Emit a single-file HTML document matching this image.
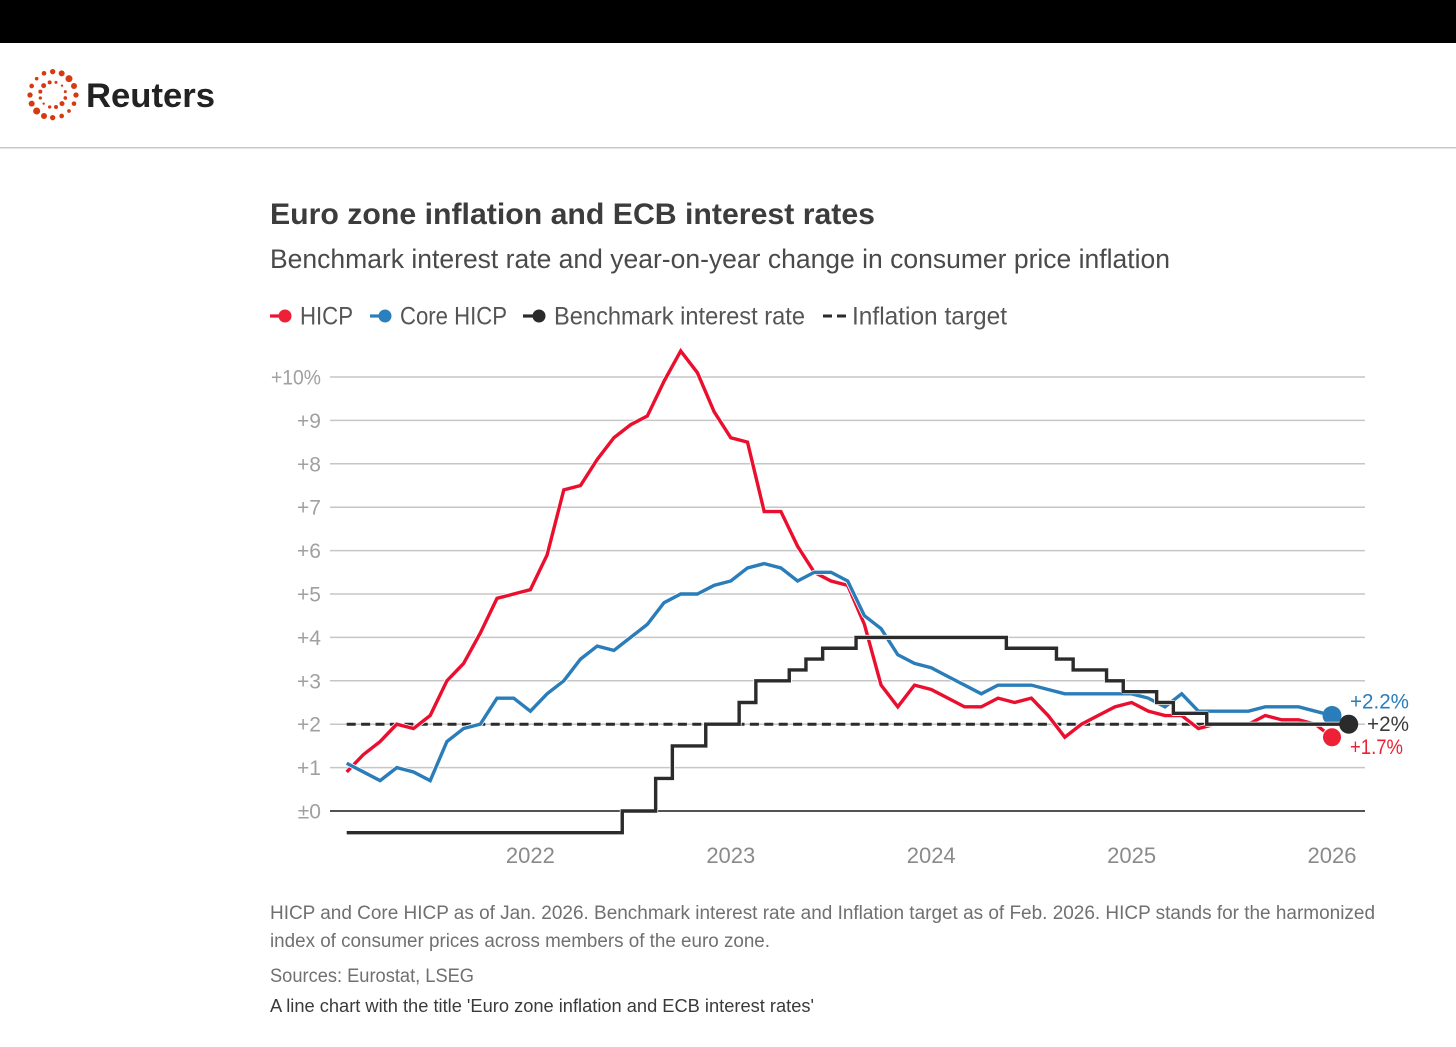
<!DOCTYPE html>
<html lang="en">
<head>
<meta charset="utf-8">
<title>Euro zone inflation and ECB interest rates</title>
<style>
html,body{margin:0;padding:0;background:#fff;}
svg{display:block;font-family:"Liberation Sans",sans-serif;}
</style>
</head>
<body>
<svg id="chart" xmlns="http://www.w3.org/2000/svg" width="1456" height="1047" viewBox="0 0 1456 1047">
  <rect x="0" y="0" width="1456" height="1047" fill="#fff"/>
  <rect x="0" y="0" width="1456" height="43" fill="#000"/>
  <g fill="#d9390f" transform="translate(0,40) scale(0.3333)">
    <circle cx="158" cy="95" r="8"/><circle cx="185" cy="100" r="9"/><circle cx="207" cy="116" r="10.5"/><circle cx="222" cy="138" r="9"/>
    <circle cx="228" cy="165" r="8"/><circle cx="222" cy="191" r="7"/><circle cx="207" cy="213" r="5.5"/><circle cx="185" cy="228" r="7"/>
    <circle cx="158" cy="233" r="8"/><circle cx="132" cy="228" r="9"/><circle cx="110" cy="213" r="10.5"/><circle cx="95" cy="191" r="9"/>
    <circle cx="90" cy="165" r="8"/><circle cx="95" cy="138" r="7"/><circle cx="110" cy="116" r="5.5"/><circle cx="132" cy="100" r="7"/>
    <circle cx="168" cy="127" r="4.5"/><circle cx="186" cy="137" r="3.5"/><circle cx="196" cy="155" r="4.5"/><circle cx="196" cy="174" r="5.5"/>
    <circle cx="186" cy="191" r="7.5"/><circle cx="168" cy="201" r="6"/><circle cx="149" cy="201" r="5"/><circle cx="131" cy="191" r="3.5"/>
    <circle cx="121" cy="174" r="5"/><circle cx="121" cy="155" r="6"/><circle cx="131" cy="137" r="7.5"/><circle cx="149" cy="127" r="6"/>
  </g>
  <text x="86" y="107" font-size="34" font-weight="700" fill="#222" textLength="129" lengthAdjust="spacingAndGlyphs">Reuters</text>
  <rect x="0" y="147" width="1456" height="1.5" fill="#c8c8c8"/>

  <text x="270" y="224" font-size="30" font-weight="700" fill="#3c3c3c" textLength="605" lengthAdjust="spacingAndGlyphs">Euro zone inflation and ECB interest rates</text>
  <text x="270" y="268" font-size="27" fill="#4a4a4a" textLength="900" lengthAdjust="spacingAndGlyphs">Benchmark interest rate and year-on-year change in consumer price inflation</text>

  <g>
    <g>
      <line x1="270" y1="316" x2="285" y2="316" stroke="#ee1133" stroke-width="3.2"/>
      <circle cx="285" cy="316" r="6.5" fill="#ee2036"/>
      <text x="300" y="324.5" font-size="25" fill="#555" textLength="53" lengthAdjust="spacingAndGlyphs">HICP</text>
    </g>
    <g>
      <line x1="370" y1="316" x2="385" y2="316" stroke="#2a7fbd" stroke-width="3.2"/>
      <circle cx="385" cy="316" r="6.5" fill="#2a7fbd"/>
      <text x="400" y="324.5" font-size="25" fill="#555" textLength="107" lengthAdjust="spacingAndGlyphs">Core HICP</text>
    </g>
    <g>
      <line x1="523" y1="316" x2="539" y2="316" stroke="#2b2b2b" stroke-width="3.2"/>
      <circle cx="539" cy="316" r="6.5" fill="#2b2b2b"/>
      <text x="554" y="324.5" font-size="25" fill="#555" textLength="251" lengthAdjust="spacingAndGlyphs">Benchmark interest rate</text>
    </g>
    <g>
      <line x1="823" y1="316" x2="846" y2="316" stroke="#2b2b2b" stroke-width="3" stroke-dasharray="9 5"/>
      <text x="852" y="324.5" font-size="25" fill="#555" textLength="155" lengthAdjust="spacingAndGlyphs">Inflation target</text>
    </g>
  </g>

  <g id="plot"></g>

  <text x="270" y="919" font-size="19" fill="#707070" textLength="1105" lengthAdjust="spacingAndGlyphs">HICP and Core HICP as of Jan. 2026. Benchmark interest rate and Inflation target as of Feb. 2026. HICP stands for the harmonized</text>
  <text x="270" y="947" font-size="19" fill="#707070" textLength="500" lengthAdjust="spacingAndGlyphs">index of consumer prices across members of the euro zone.</text>
  <text x="270" y="982" font-size="19" fill="#707070" textLength="204" lengthAdjust="spacingAndGlyphs">Sources: Eurostat, LSEG</text>
  <text x="270" y="1012" font-size="18" fill="#3a3a3a" textLength="544" lengthAdjust="spacingAndGlyphs">A line chart with the title 'Euro zone inflation and ECB interest rates'</text>
</svg>
<script>
// Monthly values; index 0 = Feb 2021.
const hicpValues = [0.9,1.3,1.6,2.0,1.9,2.2,3.0,3.4,4.1,4.9,5.0,5.1,5.9,7.4,7.5,8.1,8.6,8.9,9.1,9.9,10.6,10.1,9.2,8.6,8.5,6.9,6.9,6.1,5.5,5.3,5.2,4.3,2.9,2.4,2.9,2.8,2.6,2.4,2.4,2.6,2.5,2.6,2.2,1.7,2.0,2.2,2.4,2.5,2.3,2.2,2.2,1.9,2.0,2.0,2.0,2.2,2.1,2.1,2.0,1.7];
const coreValues = [1.1,0.9,0.7,1.0,0.9,0.7,1.6,1.9,2.0,2.6,2.6,2.3,2.7,3.0,3.5,3.8,3.7,4.0,4.3,4.8,5.0,5.0,5.2,5.3,5.6,5.7,5.6,5.3,5.5,5.5,5.3,4.5,4.2,3.6,3.4,3.3,3.1,2.9,2.7,2.9,2.9,2.9,2.8,2.7,2.7,2.7,2.7,2.7,2.6,2.4,2.7,2.3,2.3,2.3,2.3,2.4,2.4,2.4,2.3,2.2];
const rateValues = [-0.5,-0.5,-0.5,-0.5,-0.5,-0.5,-0.5,-0.5,-0.5,-0.5,-0.5,-0.5,-0.5,-0.5,-0.5,-0.5,-0.5,0,0,0.75,1.5,1.5,2,2,2.5,3,3,3.25,3.5,3.75,3.75,4,4,4,4,4,4,4,4,4,3.75,3.75,3.75,3.5,3.25,3.25,3,2.75,2.75,2.5,2.25,2.25,2,2,2,2,2,2,2,2,2];
const targetValue = 2;
const yTickValues = [0,1,2,3,4,5,6,7,8,9,10];
const yTickLabels = ['±0','+1','+2','+3','+4','+5','+6','+7','+8','+9','+10%'];
const xTickYears = [2022,2023,2024,2025,2026];
const endLabelHicp = '+1.7%';
const endLabelCore = '+2.2%';
const endLabelRate = '+2%';

const NS = 'http://www.w3.org/2000/svg';
const plot = document.getElementById('plot');
function xScale(monthIndex){ return 346.7 + monthIndex * 16.7; }
function yScale(v){ return 811 - v * 43.4; }
function yearToIndex(year){ return (year - 2021) * 12 - 1; }
function make(tag, attrs, parent){
  const el = document.createElementNS(NS, tag);
  for (const k in attrs) el.setAttribute(k, attrs[k]);
  (parent || plot).appendChild(el);
  return el;
}
function linePath(values){
  return values.map((v,i)=>(i?'L':'M')+xScale(i).toFixed(2)+' '+yScale(v).toFixed(2)).join(' ');
}
function stepPath(values){
  let d = 'M'+xScale(0).toFixed(2)+' '+yScale(values[0]).toFixed(2);
  for (let i=1;i<values.length;i++){
    const mid = (xScale(i-1)+xScale(i))/2;
    d += ' L'+mid.toFixed(2)+' '+yScale(values[i-1]).toFixed(2);
    d += ' L'+mid.toFixed(2)+' '+yScale(values[i]).toFixed(2);
  }
  d += ' L'+xScale(values.length-1).toFixed(2)+' '+yScale(values[values.length-1]).toFixed(2);
  return d;
}

yTickValues.forEach((v,i)=>{
  const isZero = v === 0;
  const grid = make('line',{x1:330,x2:1365,y1:yScale(v),y2:yScale(v),stroke:isZero?'#3a3a3a':'#c6c6c6','stroke-width':isZero?1.8:1.5});
  
  
  const label = make('text',{x:321,y:yScale(v)+7.5,'text-anchor':'end','font-size':21,fill:'#a0a0a0'});
  if (yTickLabels[i].length > 3) label.setAttribute('textLength', 50);
  if (yTickLabels[i].length > 3) label.setAttribute('lengthAdjust', 'spacingAndGlyphs');
  label.textContent = yTickLabels[i];
  
  
});

xTickYears.forEach(year=>{
  const label = make('text',{x:xScale(yearToIndex(year)),y:863,'text-anchor':'middle','font-size':22,fill:'#8a8a8a'});
  label.textContent = year;
  
  
});

const targetLine = make('line',{x1:xScale(0),x2:xScale(rateValues.length-1),y1:yScale(targetValue),y2:yScale(targetValue),stroke:'#2b2b2b','stroke-width':3,'stroke-dasharray':'9 5.4'});



function drawSeries(d, color){
  const halo = make('path',{d:d,fill:'none',stroke:'#fff','stroke-width':5,'stroke-linejoin':'round'});
  
  
  return make('path',{d:d,fill:'none',stroke:color,'stroke-width':3.4,'stroke-linejoin':'miter'});
}

const hicpLine = drawSeries(linePath(hicpValues), '#ea0f2f');



const coreLine = drawSeries(linePath(coreValues), '#2a7db9');



const hicpLast = hicpValues.length-1, coreLast = coreValues.length-1, rateLast = rateValues.length-1;

const hicpDot = make('circle',{cx:xScale(hicpLast),cy:yScale(hicpValues[hicpLast]),r:9.5,fill:'#ee2036',stroke:'#fff','stroke-width':1});



const coreDot = make('circle',{cx:xScale(coreLast),cy:yScale(coreValues[coreLast]),r:9.5,fill:'#2a7db9'});



const rateLine = drawSeries(stepPath(rateValues), '#2b2b2b');



const rateDot = make('circle',{cx:xScale(rateLast),cy:yScale(rateValues[rateLast]),r:9.5,fill:'#2b2b2b'});



const coreEnd = make('text',{x:1350,y:yScale(coreValues[coreLast])-7,'font-size':21,fill:'#2a7db9',textLength:59,lengthAdjust:'spacingAndGlyphs'});
coreEnd.textContent = endLabelCore;



const rateEnd = make('text',{x:1367,y:yScale(rateValues[rateLast])+7,'font-size':21,fill:'#3a3a3a',textLength:42,lengthAdjust:'spacingAndGlyphs'});
rateEnd.textContent = endLabelRate;



const hicpEnd = make('text',{x:1350,y:yScale(hicpValues[hicpLast])+17,'font-size':21,fill:'#ee2036',textLength:53,lengthAdjust:'spacingAndGlyphs'});
hicpEnd.textContent = endLabelHicp;


</script>
</body>
</html>
